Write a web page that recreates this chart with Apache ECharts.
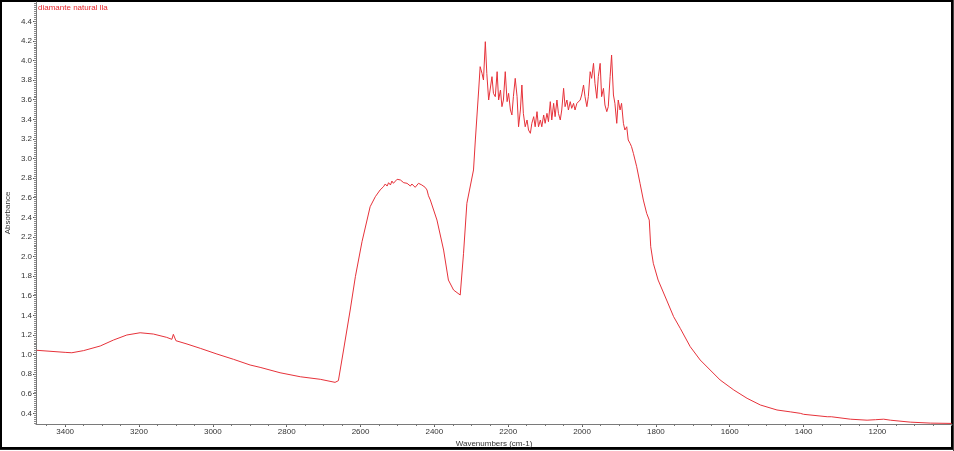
<!DOCTYPE html>
<html>
<head>
<meta charset="utf-8">
<script src="https://cdn.jsdelivr.net/npm/echarts@6/dist/echarts.min.js"></script>
<style>
html,body{margin:0;padding:0;background:#fff;}
#chart{width:954px;height:451px;}
</style>
</head>
<body>
<div id="chart"></div>
<script>
// Wavenumbers (cm-1)
const wavenumbers = [
3477,3400,3382,3350,3305,3269,3233,3197,3161,3125,3111,3107,3100,3070,3034,2989,2944,2899,2872,2818,2763,2709,2669,2660,
2646,2628,2614,2596,2574,2560,2547,2538,2533,2528,2524,2519,2515,2511,2506,2501,2497,2492,2488,2483,2479,2474,2470,2465,
2461,2456,2452,2447,2443,2438,2434,2429,2425,2420,2416,2411,2393,2375,2362,2348,2330,2325,2321,2312,2294,2289,
2280,2276,2271,2267,2262,2258,2253,2249,2244,2240,2235,2230,2226,2221,2217,2213,2208,2203,2199,2194,2190,2186,2181,2176,
2172,2167,2163,2159,2154,2149,2145,2140,2136,2131,2127,2122,2118,2113,2109,2104,2100,2095,2091,2086,2082,2077,2073,2068,
2064,2059,2055,2050,2046,2041,2037,2032,2028,2023,2019,2014,2010,2005,2001,1996,1992,1987,1983,1978,1974,1969,1965,1960,
1956,1951,1947,1942,1938,1933,1929,1924,1920,1915,1911,1906,1902,1897,1893,1888,1884,1879,1875,1870,1866,1861,1852,1843,
1834,1825,1818,1814,1807,1794,1771,1752,1734,1707,1680,1653,1626,1589,1553,1517,1472,1436,1409,1400,1336,1332,1325,1273,
1228,1205,1183,1165,1111,1056,999
];
// Absorbance
const absorbance = [
1.043,1.022,1.018,1.040,1.087,1.148,1.199,1.222,1.209,1.175,1.155,1.206,1.141,1.107,1.063,1.005,0.951,0.893,0.869,0.814,0.773,0.747,0.716,0.733,
1.046,1.454,1.794,2.151,2.508,2.610,2.679,2.712,2.740,2.719,2.753,2.730,2.770,2.747,2.763,2.788,2.770,2.781,2.763,2.753,2.740,2.747,2.730,2.719,
2.740,2.745,2.706,2.725,2.747,2.753,2.730,2.719,2.706,2.679,2.620,2.577,2.372,2.066,1.760,1.658,1.607,1.624,2.033,2.543,2.883,3.189,
3.699,3.937,3.869,3.801,4.192,3.869,3.597,3.580,3.835,3.665,3.631,3.886,3.597,3.699,3.529,3.597,3.886,3.580,3.665,3.495,3.444,3.631,3.818,3.631,
3.324,3.495,3.750,3.461,3.324,3.393,3.291,3.257,3.359,3.427,3.324,3.478,3.324,3.393,3.324,3.444,3.359,3.461,3.376,3.580,3.393,3.563,3.427,3.597,
3.461,3.393,3.495,3.716,3.529,3.597,3.495,3.580,3.512,3.563,3.495,3.563,3.580,3.597,3.648,3.750,3.631,3.529,3.631,3.886,3.818,3.971,3.767,3.614,
3.835,3.971,3.631,3.716,3.546,3.478,3.529,3.835,4.056,3.648,3.563,3.359,3.597,3.495,3.563,3.359,3.291,3.324,3.189,3.155,3.121,3.053,2.916,2.747,
2.576,2.441,2.372,2.100,1.931,1.760,1.556,1.386,1.267,1.080,0.944,0.842,0.740,0.638,0.553,0.485,0.434,0.415,0.400,0.390,0.365,0.375,0.365,0.340,
0.330,0.335,0.340,0.330,0.310,0.300,0.297
];
// Tick labels
const xTickLabels = [3400,3200,3000,2800,2600,2400,2200,2000,1800,1600,1400,1200];
const yTickLabels = [0.4,0.6,0.8,1.0,1.2,1.4,1.6,1.8,2.0,2.2,2.4,2.6,2.8,3.0,3.2,3.4,3.6,3.8,4.0,4.2,4.4];
const xMinorTicks = [];
for (let v = 1000; v <= 3450; v += 50) xMinorTicks.push(v);
const yMinorTicks = [];
for (let i = 15; i <= 229; i++) yMinorTicks.push(+(i * 0.02).toFixed(2));

const seriesData = wavenumbers.map((w, i) => [w, absorbance[i]]);

const X_MIN = 998, X_MAX = 3479, Y_MIN = 0.291, Y_MAX = 4.597;
const axisGray = '#7a7a7a';
const FONT = 'Liberation Sans, Arial, sans-serif';
const labelStyle = {color: '#333', fontSize: 8, fontFamily: FONT};

const chart = echarts.init(document.getElementById('chart'), null, {renderer: 'canvas'});
chart.setOption({
  animation: false,
  backgroundColor: '#fff',
  grid: {left: 36, right: 2, top: 2, bottom: 27, containLabel: false, outerBoundsMode: 'none'},
  xAxis: [{
    type: 'value', min: X_MIN, max: X_MAX, inverse: true, position: 'bottom',
    name: 'Wavenumbers (cm-1)', nameLocation: 'middle', nameGap: 16, nameMoveOverlap: false,
    nameTextStyle: {color: '#333', fontSize: 8, fontFamily: FONT},
    axisLine: {show: true, onZero: false, lineStyle: {color: axisGray, width: 1}},
    axisTick: {show: true, inside: false, length: 3, customValues: xTickLabels, lineStyle: {color: '#555'}},
    axisLabel: Object.assign({show: true, margin: 4, customValues: xTickLabels,
      formatter: v => String(Math.round(v))}, labelStyle),
    splitLine: {show: false}
  }, {
    type: 'value', min: X_MIN, max: X_MAX, inverse: true, position: 'bottom', offset: 0,
    axisLine: {show: false},
    axisTick: {show: true, length: 2, customValues: xMinorTicks, lineStyle: {color: '#777'}},
    axisLabel: {show: false},
    splitLine: {show: false}
  }],
  yAxis: [{
    type: 'value', min: Y_MIN, max: Y_MAX, position: 'left',
    name: 'Absorbance', nameLocation: 'middle', nameGap: 24, nameRotate: 90, nameMoveOverlap: false,
    nameTextStyle: {color: '#333', fontSize: 8, fontFamily: FONT},
    axisLine: {show: true, onZero: false, lineStyle: {color: axisGray, width: 1}},
    axisTick: {show: true, length: 3, customValues: yTickLabels, lineStyle: {color: '#555'}},
    axisLabel: Object.assign({show: true, margin: 4, customValues: yTickLabels,
      formatter: v => v.toFixed(1)}, labelStyle),
    splitLine: {show: false}
  }, {
    type: 'value', min: Y_MIN, max: Y_MAX, position: 'left', offset: 0,
    axisLine: {show: false},
    axisTick: {show: true, length: 2, customValues: yMinorTicks, lineStyle: {color: '#888'}},
    axisLabel: {show: false},
    splitLine: {show: false}
  }],
  series: [{
    type: 'line', xAxisIndex: 0, yAxisIndex: 0,
    data: seriesData, showSymbol: false, symbol: 'none',
    lineStyle: {color: '#e6323a', width: 1},
    emphasis: {disabled: true}
  }],
  graphic: [
    {type: 'text', left: 38, top: 4,
     style: {text: 'diamante natural lla', fill: '#e8262b', fontSize: 8, fontFamily: FONT}},
    {type: 'rect', shape: {x: 1, y: 1, width: 951, height: 447},
     style: {fill: null, stroke: '#000', lineWidth: 2}, silent: true},
    {type: 'line', shape: {x1: 0, y1: 449.5, x2: 954, y2: 449.5},
     style: {stroke: '#222', lineWidth: 1}, silent: true},
    {type: 'line', shape: {x1: 953.5, y1: 0, x2: 953.5, y2: 451},
     style: {stroke: '#444', lineWidth: 1}, silent: true}
  ]
});
</script>
</body>
</html>
